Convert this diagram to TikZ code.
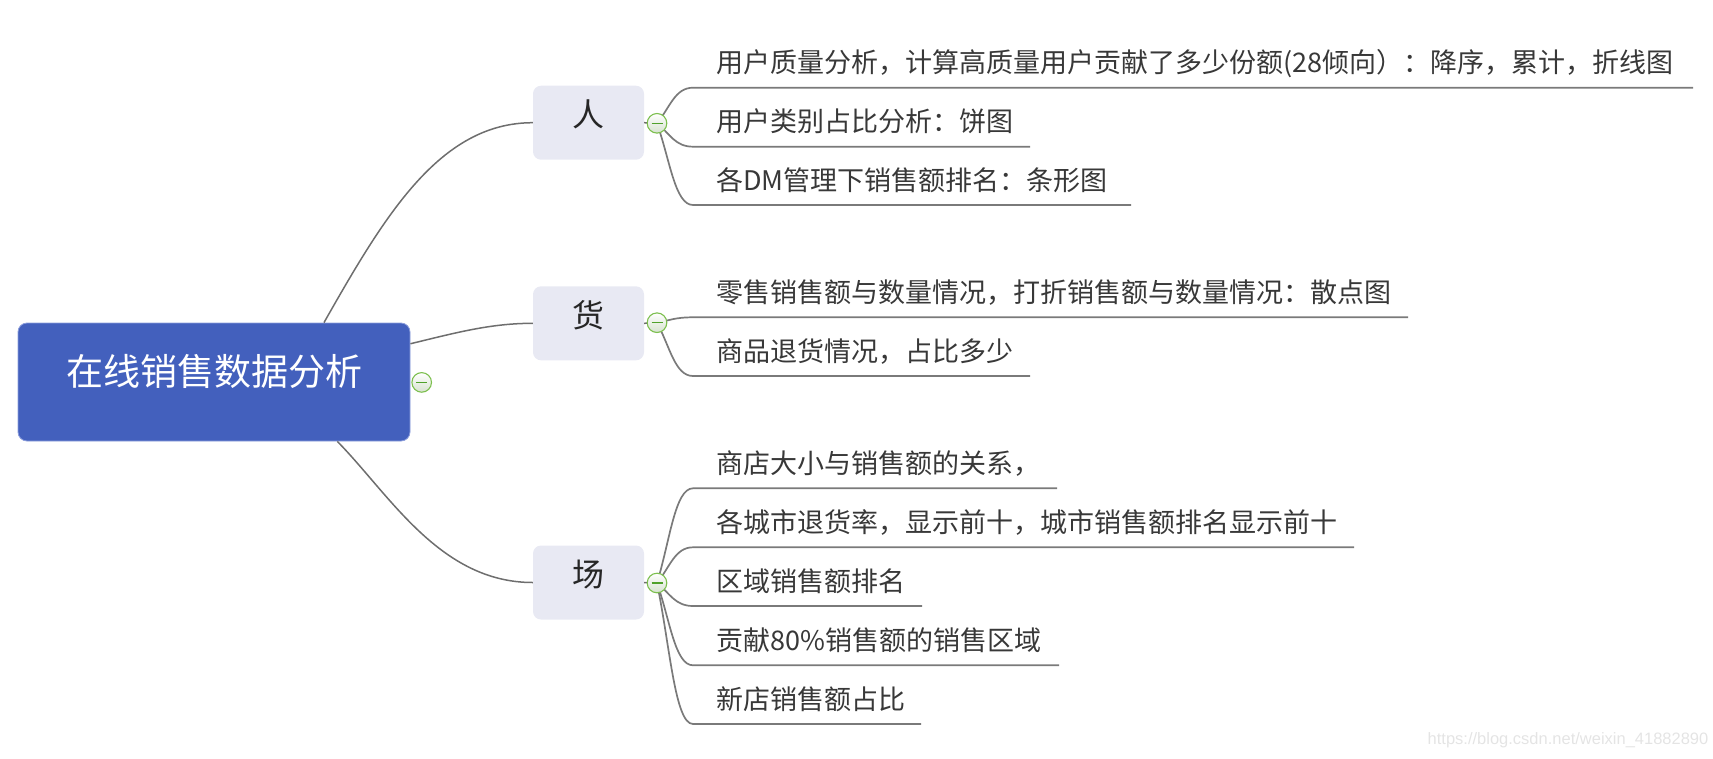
\documentclass[tikz,border=0pt]{standalone}
\usepackage{fontspec}
\newfontfamily\cjkfont{Noto Sans CJK SC}
\newfontfamily\wmfont{Liberation Sans}
\usetikzlibrary{calc}
\definecolor{rootblue}{HTML}{4360BD}
\definecolor{rootedge}{HTML}{8C9EDC}
\definecolor{branchfill}{HTML}{E8E9F3}
\definecolor{linegray}{HTML}{6E6E6E}
\definecolor{ulgray}{HTML}{7A7A7A}
\definecolor{txtgray}{HTML}{383838}
\definecolor{cgreen}{HTML}{7CBF4E}
\definecolor{cminus}{HTML}{4FA12A}
\definecolor{cfill}{HTML}{D6E2CF}
\definecolor{wmgray}{HTML}{E4E4E4}
\begin{document}
\begin{tikzpicture}[x=1pt,y=-1pt,
  conn/.style={draw=linegray, line width=1.5pt},
  uline/.style={draw=ulgray, line width=1.7pt},
  rootbox/.style={fill=rootblue, draw=rootedge, line width=0.8pt, rounded corners=9pt,
    minimum width=392pt, minimum height=118pt, inner sep=0pt, text=white,
    font=\cjkfont\fontsize{37}{40}\selectfont, text height=0.88em, text depth=0.12em},
  branchbox/.style={fill=branchfill, rounded corners=8pt, minimum width=111pt,
    minimum height=74pt, inner sep=0pt, text=black!85,
    font=\cjkfont\fontsize{32}{36}\selectfont, text height=0.88em, text depth=0.12em},
  leaf/.style={anchor=west, inner sep=0pt, text=txtgray,
    font=\cjkfont\fontsize{27}{31}\selectfont, text height=0.88em, text depth=0.12em},
  collapse/.style={circle, minimum size=19.6pt, inner sep=0pt, draw=cgreen, line width=1.1pt,
    top color=white, bottom color=cfill,
    path picture={\draw[cminus, line width=1.2pt]
      ([xshift=-5.5pt]path picture bounding box.center) -- ([xshift=5.5pt]path picture bounding box.center);}}
]
\useasboundingbox (0,0) rectangle (1713,758);

% root and branches
\node[rootbox] (R) at (214,382) {在线销售数据分析};
\node[branchbox] (P) at (588.5,122.7) {人};
\node[branchbox] (G) at (588.5,323.3) {货};
\node[branchbox] (C) at (588.5,582.5) {场};

\coordinate (cR) at (421.7,382.4);
\coordinate (cP) at (657,123.3);
\coordinate (cG) at (657,322.7);
\coordinate (cC) at (657,583);

% root connectors
\draw[conn] ($(R.north west)!0.78!(R.north east)$) .. controls (385,215) and (440,122.7) .. (P.west);
\draw[conn] ($(R.north east)!0.178!(R.south east)$) .. controls (455,333) and (490,323.3) .. (G.west);
\draw[conn] ($(R.south west)!0.814!(R.south east)$) .. controls (390,495) and (440,582.5) .. (C.west);

% stubs
\draw[conn] (P.east) -- (cP);
\draw[conn] (G.east) -- (cG);
\draw[conn] (C.east) -- (cC);

% leaves of 人
\node[leaf] (P1) at (716,69) {用户质量分析，计算高质量用户贡献了多少份额(28倾向）：降序，累计，折线图};
\node[leaf] (P2) at (716,128) {用户类别占比分析：饼图};
\node[leaf] (P3) at (716,186.3) {各DM管理下销售额排名：条形图};
\coordinate (eP1) at (1693,87.7);
\coordinate (eP2) at (1030,146.7);
\coordinate (eP3) at (1131,205);
\draw[uline] (cP) .. controls (670,107.3) and (675,87.7) .. (693,87.7) -- (eP1);
\draw[uline] (cP) .. controls (670,133.8) and (675,146.7) .. (693,146.7) -- (eP2);
\draw[uline] (cP) .. controls (670,160.1) and (675,205) .. (693,205) -- (eP3);

% leaves of 货
\node[leaf] (G1) at (716,298.6) {零售销售额与数量情况，打折销售额与数量情况：散点图};
\node[leaf] (G2) at (716,357.3) {商品退货情况，占比多少};
\coordinate (eG1) at (1408,317.3);
\coordinate (eG2) at (1030,376);
\draw[uline] (cG) .. controls (670,320.3) and (675,317.3) .. (693,317.3) -- (eG1);
\draw[uline] (cG) .. controls (670,346.7) and (675,376) .. (693,376) -- (eG2);

% leaves of 场
\node[leaf] (C1) at (716,469.6) {商店大小与销售额的关系，};
\node[leaf] (C2) at (716,528.6) {各城市退货率，显示前十，城市销售额排名显示前十};
\node[leaf] (C3) at (716,587.3) {区域销售额排名};
\node[leaf] (C4) at (716,646.6) {贡献80\%销售额的销售区域};
\node[leaf] (C5) at (716,705.3) {新店销售额占比};
\coordinate (eC1) at (1057,488.3);
\coordinate (eC2) at (1354,547.3);
\coordinate (eC3) at (922,606);
\coordinate (eC4) at (1059,665.3);
\coordinate (eC5) at (921,724);
\draw[uline] (cC) .. controls (670,540.4) and (675,488.3) .. (693,488.3) -- (eC1);
\draw[uline] (cC) .. controls (670,566.9) and (675,547.3) .. (693,547.3) -- (eC2);
\draw[uline] (cC) .. controls (670,593.4) and (675,606) .. (693,606) -- (eC3);
\draw[uline] (cC) .. controls (670,620) and (675,665.3) .. (693,665.3) -- (eC4);
\draw[uline] (cC) .. controls (670,646.5) and (675,724) .. (693,724) -- (eC5);

% collapse buttons
\node[collapse] (bR) at (cR) {};
\node[collapse] (bP) at (cP) {};
\node[collapse] (bG) at (cG) {};
\node[collapse] (bC) at (cC) {};

% watermark
\node[text=wmgray, font=\wmfont\fontsize{16.5}{18}\selectfont, inner sep=0pt] (wm) at (1568,740) {https://blog.csdn.net/weixin\_41882890};
\end{tikzpicture}
\end{document}
